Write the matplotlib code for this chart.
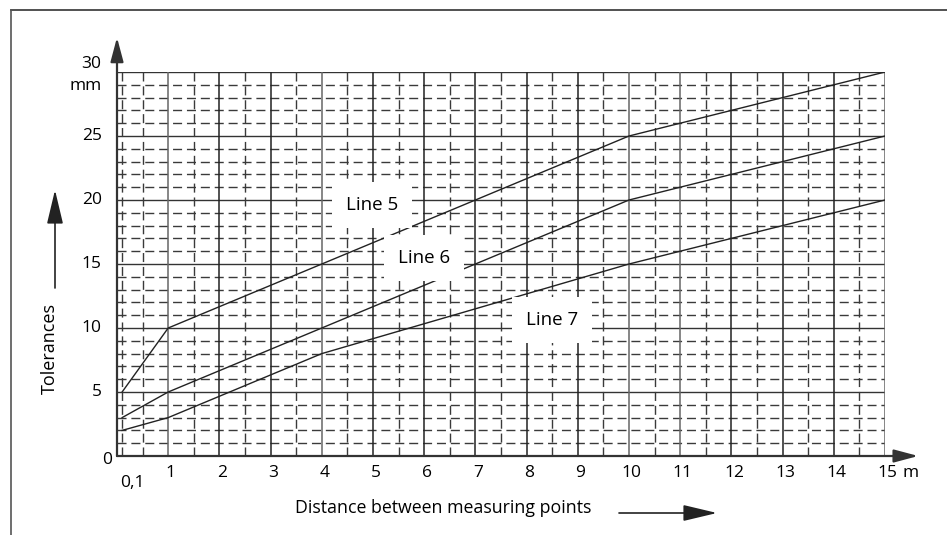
import numpy as np
import matplotlib
matplotlib.use("Agg")
import matplotlib.pyplot as plt
from matplotlib.lines import Line2D
from matplotlib.patches import FancyArrowPatch

plt.rcParams['font.family'] = ['Open Sans', 'DejaVu Sans']

# data (distance in m, tolerance in mm)
line5_x = [0.1, 1, 10, 15]
line5_y = [5, 10, 25, 30]
line6_x = [0.1, 1, 10, 15]
line6_y = [3, 5, 20, 25]
line7_x = [0.1, 1, 4, 10, 15]
line7_y = [2, 3, 8, 15, 20]

x_ticks = list(range(1, 16))
y_ticks = [0, 5, 10, 15, 20, 25]
labels = ["Line 5", "Line 6", "Line 7"]
label_pos = [(4.98, 19.6), (6.0, 15.5), (8.5, 10.6)]

W, H = 947, 535
fig = plt.figure(figsize=(W / 100, H / 100), dpi=100)
ax = fig.add_axes([117 / W, 1 - 456 / H, (885 - 117) / W, (456 - 72) / H])
ax.set_xlim(0, 15)
ax.set_ylim(0, 30)
for s in ax.spines.values():
    s.set_visible(False)
ax.set_xticks([])
ax.set_yticks([])

# grid: dashed minor, solid major
dash = dict(color='#3a3a3a', lw=1.0, ls=(0, (6.5, 3.5)), zorder=1)
solid = dict(color='#333333', lw=1.0, zorder=1)
for y in range(1, 30):
    if y % 5:
        ax.axhline(y, **dash)
for y in range(5, 31, 5):
    ax.axhline(y, **solid)
for x in list(np.arange(0.5, 15, 1.0)) + [0.1]:
    ax.axvline(x, **dash)
for x in range(1, 16):
    ax.axvline(x, color='#666666' if x in (1, 4, 10, 11, 15) else '#222222', lw=1.1, zorder=1)

# axes with arrows
arr = dict(arrowstyle='-|>,head_length=1.05,head_width=0.28', color='#333333', lw=1.6,
           shrinkA=0, shrinkB=0, mutation_scale=14)
ax.annotate('', xy=(0, 32.7), xytext=(0, 0), arrowprops=arr, annotation_clip=False)
ax.annotate('', xy=(15.65, 0), xytext=(0, 0), arrowprops=arr, annotation_clip=False)

# curves
for xs, ys in [(line5_x, line5_y), (line6_x, line6_y), (line7_x, line7_y)]:
    ax.plot(xs, ys, color='#222222', lw=1.0, zorder=3)

for lab, (lx, ly) in zip(labels, label_pos):
    ax.text(lx, ly, lab, fontsize=13.5, ha='center', va='center', zorder=4,
            bbox=dict(boxstyle='square,pad=0.75', fc='white', ec='none'))

# tick labels
fs = 12.5
for x in x_ticks:
    ax.text(x + 0.05, -1.3, str(x), fontsize=fs, ha='center', va='center')
ax.text(0.3, -2.1, '0,1', fontsize=fs, ha='center', va='center')
ax.text(15.5, -1.35, 'm', fontsize=fs, ha='center', va='center')
for y in y_ticks[1:]:
    ax.text(-0.3, y, str(y), fontsize=fs, ha='right', va='center')
ax.text(-0.19, -0.3, '0', fontsize=fs, ha='center', va='center')
ax.text(-0.3, 30.6, '30', fontsize=fs, ha='right', va='center')
ax.text(-0.3, 28.9, 'mm', fontsize=fs, ha='right', va='center')

# axis titles
fig.text(50 / W, 1 - 349 / H, 'Tolerances', fontsize=13, rotation=90,
         ha='center', va='center')
fig.text(443 / W, 1 - 508 / H, 'Distance between measuring points', fontsize=12.8,
         ha='center', va='center')
arr2 = dict(arrowstyle='-|>,head_length=1.05,head_width=0.25', color='#222222', lw=1.2,
            shrinkA=0, shrinkB=0, mutation_scale=20, transform=fig.transFigure)
fig.add_artist(FancyArrowPatch((619 / W, 1 - 513 / H), (717 / W, 1 - 513 / H), **arr2))
fig.add_artist(FancyArrowPatch((55 / W, 1 - 288 / H), (55 / W, 1 - 190 / H), **arr2))

# frame around the figure (top and left edges)
fig.add_artist(Line2D([11 / W, 1], [1 - 10 / H, 1 - 10 / H], color='#333333', lw=1.2))
fig.add_artist(Line2D([11 / W, 11 / W], [0, 1 - 10 / H], color='#555555', lw=1.2))

fig.savefig('out.png', dpi=100)
